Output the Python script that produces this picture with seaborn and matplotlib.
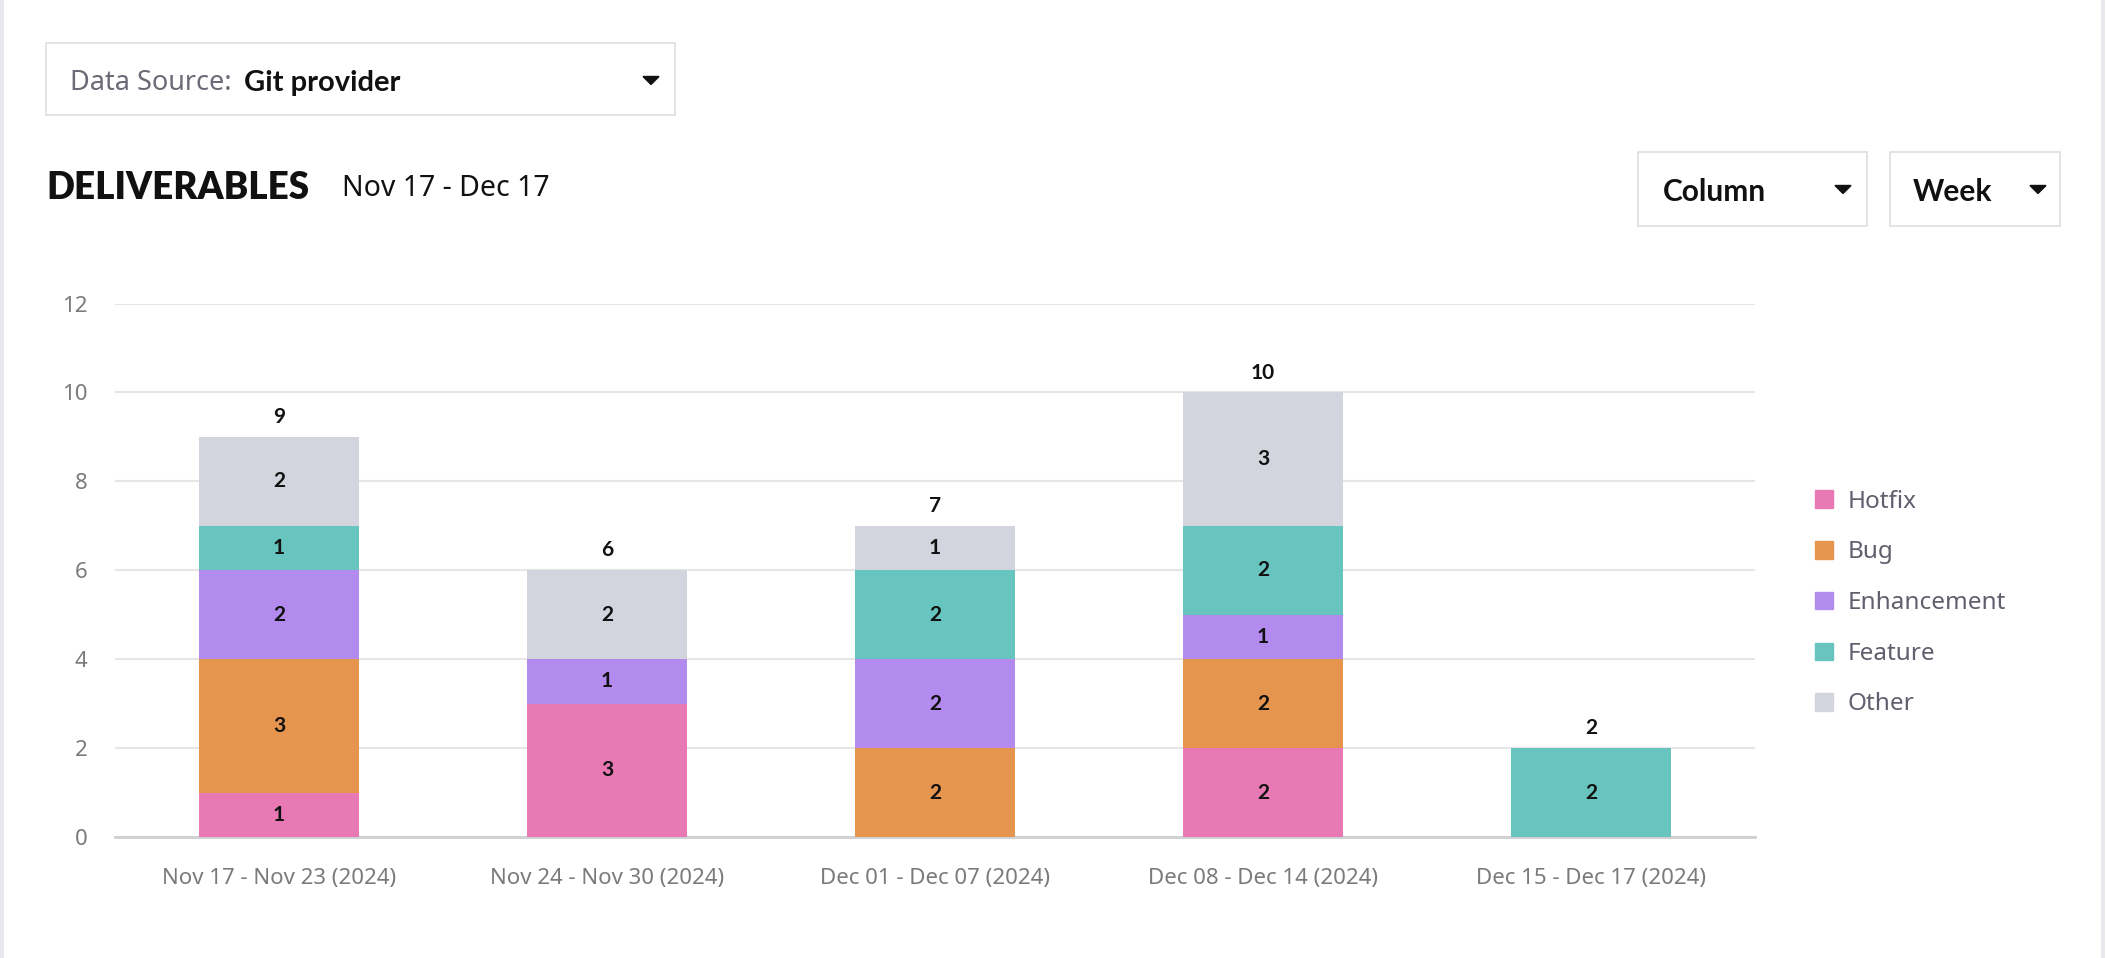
import numpy as np
import pandas as pd
import matplotlib.pyplot as plt
import seaborn as sns
from matplotlib.patches import Rectangle, Polygon

weeks = ["Nov 17 - Nov 23 (2024)", "Nov 24 - Nov 30 (2024)", "Dec 01 - Dec 07 (2024)",
         "Dec 08 - Dec 14 (2024)", "Dec 15 - Dec 17 (2024)"]
types = ["Hotfix", "Bug", "Enhancement", "Feature", "Other"]
hotfix = [1, 3, 0, 2, 0]
bug = [3, 0, 2, 2, 0]
enhancement = [2, 1, 2, 1, 0]
feature = [1, 0, 2, 2, 2]
other = [2, 2, 1, 3, 0]
colors = ["#e879b5", "#e5954d", "#b38bee", "#67c4bf", "#d2d5dd"]
yticks = [0, 2, 4, 6, 8, 10, 12]

sns.set_style("white")
plt.rcParams['font.family'] = ['Noto Sans', 'DejaVu Sans']
BOLD = ['Lato', 'DejaVu Sans']

data = pd.DataFrame({"Hotfix": hotfix, "Bug": bug, "Enhancement": enhancement,
                     "Feature": feature, "Other": other}, index=weeks)
cum = data.cumsum(axis=1)

fig = plt.figure(figsize=(21.06, 9.58), dpi=100)
ax = fig.add_axes([115/2106, 121/958, 1640/2106, 533.5/958])

# stacked bars: draw cumulative heights from the top layer down
for t, c in reversed(list(zip(types, colors))):
    sns.barplot(x=weeks, y=cum[t].values, color=c, saturation=1, width=0.49,
                ax=ax, zorder=3, linewidth=0)

# segment labels
for i, w in enumerate(weeks):
    base = 0
    for t in types:
        v = data.loc[w, t]
        if v > 0:
            ax.text(i, base + v / 2, str(v), ha="center", va="center", family=BOLD,
                    fontsize=15, fontweight="bold", color="#111111", zorder=5)
        base += v
    ax.text(i, base + 0.22, str(base), ha="center", va="bottom", family=BOLD,
            fontsize=15, fontweight="bold", color="#111111", zorder=5)

ax.set_ylim(0, 12)
ax.set_xlim(-0.5, len(weeks) - 0.5)
ax.set_yticks(yticks)
ax.set_yticklabels([str(v) for v in yticks])
ax.yaxis.grid(True, color="#e6e6e6", linewidth=1.5, zorder=0)
ax.set_axisbelow(True)
for s in ["top", "right", "left"]:
    ax.spines[s].set_visible(False)
ax.spines["bottom"].set_color("#cfcfcf")
ax.spines["bottom"].set_linewidth(2)
ax.tick_params(axis="both", length=0, labelsize=16, colors="#7a7a7a")
ax.tick_params(axis="y", pad=20)
ax.tick_params(axis="x", pad=22)
ax.set_xlabel("")
ax.set_ylabel("")

# legend
handles = [Rectangle((0, 0), 1, 1, color=c) for c in colors]
leg = fig.legend(handles, types, loc="center left", bbox_to_anchor=(1793/2106, 1 - 603/958),
                 frameon=False, fontsize=17.5, handlelength=0.73, handleheight=0.73,
                 labelspacing=1.1, handletextpad=0.62)
for txt in leg.get_texts():
    txt.set_color("#5f5f6e")

# header widgets
def box(x0, y0, x1, y1):
    fig.patches.append(Rectangle((x0/2106, 1 - y1/958), (x1-x0)/2106, (y1-y0)/958,
                                 transform=fig.transFigure, fill=False,
                                 edgecolor="#dedede", linewidth=1.2))

def tri(cx, cy):
    w, h = 8, 7
    fig.patches.append(Polygon([((cx-w)/2106, 1-(cy-h/2)/958), ((cx+w)/2106, 1-(cy-h/2)/958),
                                (cx/2106, 1-(cy+h/2+1)/958)], closed=True,
                               transform=fig.transFigure, color="#111111"))

box(46, 43, 675, 115)
fig.text(70/2106, 1 - 83/958, "Data Source:", fontsize=19.5, color="#6b6b78", va="center")
fig.text(244/2106, 1 - 83/958, "Git provider", fontsize=21, color="#111111", family=BOLD,
         fontweight="bold", va="center")
tri(651, 80)

fig.text(46/2106, 1 - 188/958, "DELIVERABLES", fontsize=26.5, fontweight="heavy", family=BOLD,
         color="#111111", va="center")
fig.text(342/2106, 1 - 189/958, "Nov 17 - Dec 17", fontsize=20.5, color="#111111", va="center")

box(1638, 152, 1867, 226)
fig.text(1663/2106, 1 - 192/958, "Column", fontsize=21.5, fontweight="bold", family=BOLD,
         color="#111111", va="center")
tri(1843, 189)
box(1890, 152, 2060, 226)
fig.text(1913/2106, 1 - 192/958, "Week", fontsize=21.5, fontweight="bold", family=BOLD,
         color="#111111", va="center")
tri(2038, 189)

# panel borders
fig.add_artist(plt.Line2D([2/2106, 2/2106], [0, 1], transform=fig.transFigure,
                          color="#e8e9ec", linewidth=3))
fig.add_artist(plt.Line2D([2103/2106, 2103/2106], [0, 1], transform=fig.transFigure,
                          color="#e8e9ec", linewidth=3))

fig.savefig("out.png", dpi=100)
